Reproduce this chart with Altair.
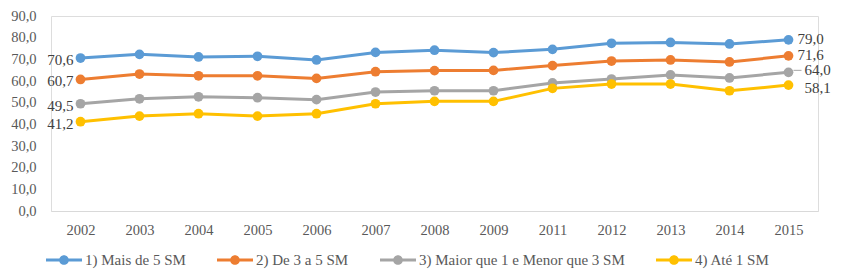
import altair as alt
import pandas as pd

years = ["2002", "2003", "2004", "2005", "2006", "2007", "2008", "2009", "2011", "2012", "2013", "2014", "2015"]
series_names = ["1) Mais de 5 SM", "2) De 3 a 5 SM", "3) Maior que 1 e Menor que 3 SM", "4) Até 1 SM"]
s1 = [70.6, 72.3, 71.1, 71.4, 69.7, 73.2, 74.2, 73.1, 74.6, 77.4, 77.8, 77.1, 79.0]
s2 = [60.7, 63.2, 62.4, 62.4, 61.2, 64.3, 64.8, 64.9, 67.1, 69.2, 69.7, 68.8, 71.6]
s3 = [49.5, 51.8, 52.7, 52.3, 51.4, 54.9, 55.5, 55.5, 59.1, 60.9, 62.8, 61.4, 64.0]
s4 = [41.2, 43.8, 44.9, 43.8, 44.9, 49.5, 50.6, 50.6, 56.6, 58.6, 58.6, 55.5, 58.1]
colors = ["#5B9BD5", "#ED7D31", "#A5A5A5", "#FFC000"]

rows = []
for name, vals in zip(series_names, [s1, s2, s3, s4]):
    for i, (y, v) in enumerate(zip(years, vals)):
        rows.append({"ano": y, "serie": name, "valor": v,
                     "rotulo": f"{v:.1f}".replace(".", ","),
                     "pos": "first" if i == 0 else ("last" if i == len(years) - 1 else "mid")})
df = pd.DataFrame(rows)

FONT = "Liberation Serif"

x = alt.X("ano:O", sort=years, scale=alt.Scale(type="point", padding=0.5),
          axis=alt.Axis(title=None, labelAngle=0, ticks=False, domainColor="#D9D9D9",
                        labelPadding=12, labelFontSize=14.5, labelColor="#595959", labelFont=FONT))
y = alt.Y("valor:Q", scale=alt.Scale(domain=[0, 90], nice=False),
          axis=alt.Axis(title=None, values=list(range(0, 100, 10)), grid=False, domain=False, ticks=False,
                        labelPadding=15, labelFontSize=14.5, labelColor="#595959", labelFont=FONT,
                        labelExpr="replace(format(datum.value, '.1f'), '.', ',')"))

sym = "M-1,-0.085H1V0.085H-1Z M0.27,0A0.27,0.27,0,1,1,-0.27,0A0.27,0.27,0,1,1,0.27,0Z"
color = alt.Color("serie:N", sort=series_names,
                  scale=alt.Scale(domain=series_names, range=colors),
                  legend=alt.Legend(title=None, orient="none", direction="horizontal",
                                    legendX=-5, legendY=226,
                                    symbolType=sym, symbolSize=1296, symbolStrokeWidth=0,
                                    labelFont=FONT, labelFontSize=15, labelColor="#595959",
                                    labelLimit=400, columnPadding=31, labelOffset=3))

base = alt.Chart(df)
lines = base.mark_line(strokeWidth=3).encode(x=x, y=y, color=color)
points = base.mark_circle(size=95, opacity=1).encode(x=x, y=y, color=color)

left = base.transform_filter(alt.datum.pos == "first").mark_text(
    align="right", baseline="middle", dx=-7, dy=2, font=FONT, fontSize=15, color="#404040"
).encode(x=x, y=y, text="rotulo:N")

right12 = base.transform_filter(
    (alt.datum.pos == "last") & ((alt.datum.serie == series_names[0]) | (alt.datum.serie == series_names[1]))
).mark_text(align="left", baseline="middle", dx=9, dy=-1, font=FONT, fontSize=15, color="#404040"
).encode(x=x, y=y, text="rotulo:N")

right3 = base.transform_filter(
    (alt.datum.pos == "last") & (alt.datum.serie == series_names[2])
).mark_text(align="left", baseline="middle", dx=16, dy=-2, font=FONT, fontSize=15, color="#404040"
).encode(x=x, y=y, text="rotulo:N")

right4 = base.transform_filter(
    (alt.datum.pos == "last") & (alt.datum.serie == series_names[3])
).mark_text(align="left", baseline="middle", dx=16, dy=3, font=FONT, fontSize=15, color="#404040"
).encode(x=x, y=y, text="rotulo:N")

leader = base.transform_filter(
    (alt.datum.pos == "last") & (alt.datum.serie == series_names[2])
).mark_rule(color="#A5A5A5", strokeWidth=1, xOffset=5, x2Offset=13, yOffset=-2, y2Offset=-2).encode(
    x=x, x2=alt.X2("ano:O"), y=y)

chart = alt.layer(lines, points, left, right12, right3, right4, leader).properties(
    width=767, height=195,
    autosize=alt.AutoSizeParams(type="none"),
    padding={"left": 43, "top": 8, "right": 15, "bottom": 62},
).configure_view(stroke=None).configure(font=FONT).configure_axis(
    labelFont=FONT).configure_legend(labelFont=FONT).configure_text(font=FONT)

chart.save("out.html", embed_options={"renderer": "svg", "actions": False})
